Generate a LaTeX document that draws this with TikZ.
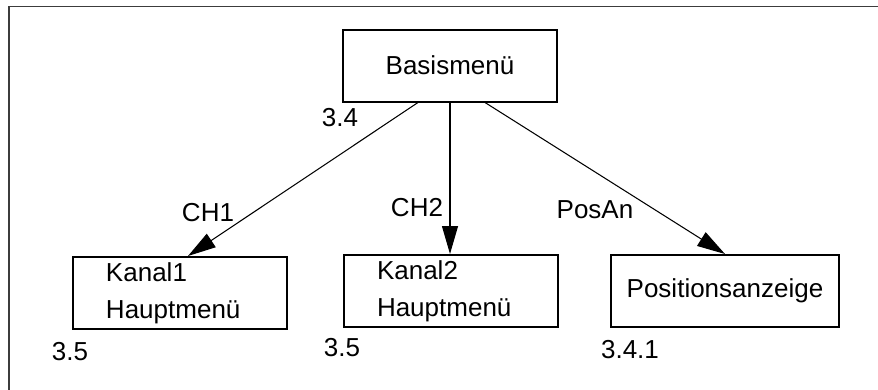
\documentclass[tikz,border=0pt]{standalone}
\usepackage{fontspec}
\setmainfont{Liberation Sans}
\usetikzlibrary{arrows.meta}
\definecolor{framegray}{RGB}{60,60,60}

\tikzset{
  menubox/.style={draw,line width=0.4mm,minimum width=42.8mm,minimum height=14.4mm,inner sep=0pt},
  listbox/.style={menubox,text width=29.6mm,inner xsep=6.6mm,align=left},
  link/.style={line width=0.6pt,-{Triangle[length=5.6mm,width=3.2mm]}},
  num/.style={inner sep=0pt}
}

\begin{document}
\begin{tikzpicture}[x=0.2mm,y=-0.2mm,font=\fontsize{14.8}{21}\selectfont]
    \useasboundingbox (0,0) rectangle (878,390);
    \draw[framegray,line width=0.3mm] (9,390)--(9,6.5)--(878,6.5);
    % menu boxes
    \node[menubox] (basis) at (450,65.5) {Basismenü};
    \node[listbox] (kanal1) at (180,293) {Kanal1\\Hauptmenü};
    \node[listbox] (kanal2) at (451,291) {Kanal2\\Hauptmenü};
    \node[menubox,minimum width=45.6mm] (posanz) at (725,291) {Positionsanzeige};
    % section numbers
    \node[num] (nbasis) at (340,118) {3.4};
    \node[num] (nkanal1) at (70,352) {3.5};
    \node[num] (nkanal2) at (342,348) {3.5};
    \node[num] (nposanz) at (630,350) {3.4.1};
    % transitions
    \draw[link] ([xshift=-6.4mm]basis.south)--([xshift=1.6mm]kanal1.north);
    \draw[link] (basis.south)--(basis.south|-kanal2.north);
    \draw[link] ([xshift=7mm]basis.south)--(posanz.north);
    \node[num] (ch1) at (208,213) {CH1};
    \node[num] (ch2) at (417,208) {CH2};
    \node[num] (posan) at (595,210) {PosAn};
\end{tikzpicture}
\end{document}
